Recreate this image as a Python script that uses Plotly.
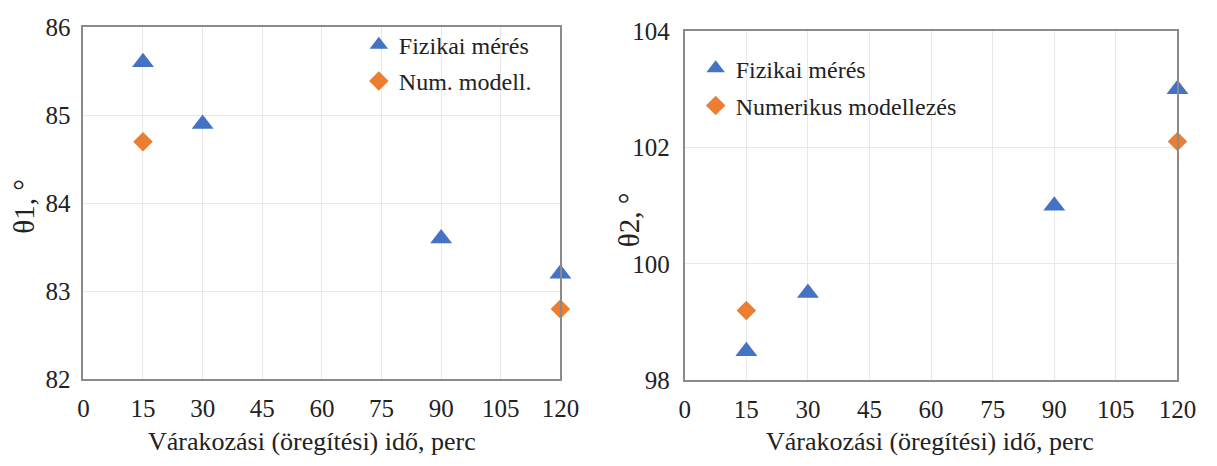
import plotly.graph_objects as go

# Aging (waiting) time in minutes
t_phys = [15, 30, 90, 120]
t_num = [15, 120]

# Contact angle theta1 (degrees)
theta1_phys = [85.6, 84.9, 83.6, 83.2]
theta1_num = [84.7, 82.8]

# Contact angle theta2 (degrees)
theta2_phys = [98.5, 99.5, 101.0, 103.0]
theta2_num = [99.2, 102.1]

x_ticks = [0, 15, 30, 45, 60, 75, 90, 105, 120]
y1_ticks = [82, 83, 84, 85, 86]
y2_ticks = [98, 100, 102, 104]

BLUE = "#4472C4"
ORANGE = "#ED7D31"
FONT = "Liberation Serif, Times New Roman, serif"
TXT = "#222222"

fig = go.Figure()

tri = dict(symbol="triangle-up", size=19, color=BLUE)
dia = dict(symbol="diamond", size=15, color=ORANGE)

fig.add_trace(go.Scatter(x=t_phys, y=theta1_phys, mode="markers", marker=tri,
                         name="Fizikai mérés", xaxis="x", yaxis="y",
                         legend="legend", legendgroup="p1", cliponaxis=False))
fig.add_trace(go.Scatter(x=t_num, y=theta1_num, mode="markers", marker=dia,
                         name="Num. modell.", xaxis="x", yaxis="y",
                         legend="legend", legendgroup="n1", cliponaxis=False))
fig.add_trace(go.Scatter(x=t_phys, y=theta2_phys, mode="markers", marker=tri,
                         name="Fizikai mérés", xaxis="x2", yaxis="y2",
                         legend="legend2", legendgroup="p2", cliponaxis=False))
fig.add_trace(go.Scatter(x=t_num, y=theta2_num, mode="markers", marker=dia,
                         name="Numerikus modellezés", xaxis="x2", yaxis="y2",
                         legend="legend2", legendgroup="n2", cliponaxis=False))

axis_common = dict(
    showline=True, linecolor="#8a8a8a", linewidth=2, mirror=True,
    showgrid=True, gridcolor="#e8e8e8", gridwidth=1,
    zeroline=False, ticks="",
    tickfont=dict(family=FONT, size=25, color=TXT),
)

fig.update_layout(
    width=1217, height=466,
    margin=dict(l=0, r=0, t=0, b=0),
    paper_bgcolor="white", plot_bgcolor="white",
    font=dict(family=FONT, size=24, color=TXT),
    xaxis=dict(domain=[79 / 1217, 566 / 1217], range=[0, 120], tickvals=x_ticks,
               anchor="y", ticklabelstandoff=6, **axis_common),
    yaxis=dict(domain=[1 - 389 / 466, 1 - 15 / 466], range=[82, 86], tickvals=y1_ticks,
               anchor="x", ticklabelstandoff=6, **axis_common),
    xaxis2=dict(domain=[693 / 1217, 1196 / 1217], range=[0, 120], tickvals=x_ticks,
                anchor="y2", ticklabelstandoff=6, **axis_common),
    yaxis2=dict(domain=[1 - 390 / 466, 1 - 19 / 466], range=[98, 104], tickvals=y2_ticks,
                anchor="x2", ticklabelstandoff=8, **axis_common),
    legend=dict(x=0.296, y=0.978, xanchor="left", yanchor="top",
                bgcolor="rgba(0,0,0,0)", font=dict(family=FONT, size=24, color=TXT),
                itemwidth=30, tracegroupgap=2),
    legend2=dict(x=0.5786, y=0.9245, xanchor="left", yanchor="top",
                 bgcolor="rgba(0,0,0,0)", font=dict(family=FONT, size=24, color=TXT),
                 itemwidth=30, tracegroupgap=3),
    showlegend=True,
)

# Axis titles
title_font = dict(family=FONT, size=26, color=TXT)
fig.add_annotation(text="Várakozási (öregítési) idő, perc", xref="paper", yref="paper",
                   x=312 / 1217, y=1 - 455 / 466, showarrow=False, font=title_font,
                   xanchor="center", yanchor="middle")
fig.add_annotation(text="Várakozási (öregítési) idő, perc", xref="paper", yref="paper",
                   x=943 / 1217, y=1 - 455 / 466, showarrow=False, font=title_font,
                   xanchor="center", yanchor="middle")
fig.add_annotation(text="θ1, °", xref="paper", yref="paper", textangle=-90,
                   x=18 / 1217, y=1 - 205 / 466, showarrow=False,
                   font=dict(family=FONT, size=29, color=TXT),
                   xanchor="center", yanchor="middle")
fig.add_annotation(text="θ2, °", xref="paper", yref="paper", textangle=-90,
                   x=636 / 1217, y=1 - 219 / 466, showarrow=False,
                   font=dict(family=FONT, size=29, color=TXT),
                   xanchor="center", yanchor="middle")

fig.write_html("out.html")
